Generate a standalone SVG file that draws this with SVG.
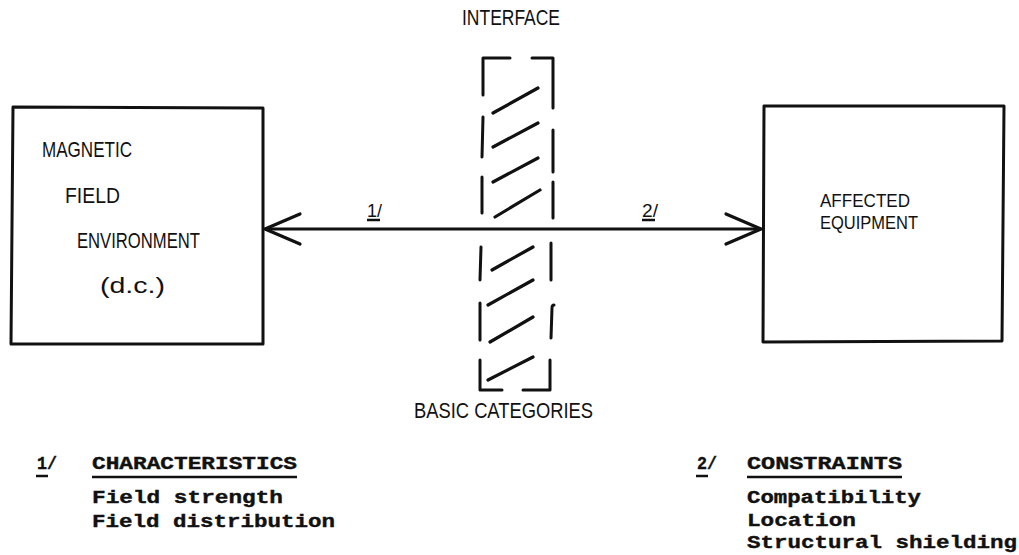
<svg xmlns="http://www.w3.org/2000/svg" width="1019" height="555" viewBox="0 0 1019 555">
  <defs>
    <style>
      .box { fill: none; stroke: #111; stroke-width: 3; stroke-linejoin: round; }
      .dash { fill: none; stroke: #111; stroke-width: 3; stroke-linecap: round; stroke-linejoin: round; }
      .hatch { fill: none; stroke: #111; stroke-width: 3.2; stroke-linecap: round; }
      .conn { fill: none; stroke: #111; stroke-width: 3; }
      .ul { stroke: #111; stroke-width: 2.5; }
      .lbl { font-family: "Liberation Sans", Arial, sans-serif; font-size: 22px; fill: #111; }
      .lbl2 { font-family: "Liberation Sans", Arial, sans-serif; font-size: 19px; fill: #111; }
      .small { font-family: "Liberation Sans", Arial, sans-serif; font-size: 18px; fill: #111; }
      .mono { font-family: "Liberation Mono", "Courier New", monospace; font-weight: bold; font-size: 18.5px; fill: #111; stroke: #111; stroke-width: 0.4; }
    </style>
    <marker id="vhead" markerUnits="userSpaceOnUse" markerWidth="40" markerHeight="40" refX="0" refY="0" orient="auto-start-reverse" overflow="visible">
      <path d="M-35,-15 L0,0 L-35,15" fill="none" stroke="#111" stroke-width="3.2" stroke-linecap="round" stroke-linejoin="round"/>
    </marker>
  </defs>
  <rect width="1019" height="555" fill="#fff"/>

  <g id="node-magnetic-field">
    <path class="box" d="M13,107 L263,108 L263,344 L11,344 Z"/>
    <text class="lbl" x="42" y="157" textLength="90" lengthAdjust="spacingAndGlyphs">MAGNETIC</text>
    <text class="lbl" x="65" y="203" textLength="55" lengthAdjust="spacingAndGlyphs">FIELD</text>
    <text class="lbl" x="77" y="248" textLength="123" lengthAdjust="spacingAndGlyphs">ENVIRONMENT</text>
    <text class="lbl" x="100" y="293" textLength="65" lengthAdjust="spacingAndGlyphs">(d.c.)</text>
  </g>

  <g id="node-affected-equipment">
    <path class="box" d="M764,106 L1004,106 L1002,341 L763,342 Z"/>
    <text class="lbl2" x="820" y="207" textLength="90" lengthAdjust="spacingAndGlyphs">AFFECTED</text>
    <text class="lbl2" x="820" y="229" textLength="98" lengthAdjust="spacingAndGlyphs">EQUIPMENT</text>
  </g>

  <g id="node-interface">
    <text class="lbl" x="462" y="25" textLength="98" lengthAdjust="spacingAndGlyphs">INTERFACE</text>
    <path class="dash" d="M510,58 L483,58 L483,95"/>
    <path class="dash" d="M483,117 L482,157"/>
    <path class="dash" d="M482,177 L482,213"/>
    <path class="dash" d="M481,247 L480,280"/>
    <path class="dash" d="M480,303 L480,340"/>
    <path class="dash" d="M480,360 L480,390 L502,390"/>
    <path class="dash" d="M532,58 L553,58 L553,108"/>
    <path class="dash" d="M553,130 L553,172"/>
    <path class="dash" d="M553,182 L553,218"/>
    <path class="dash" d="M551,243 L551,280"/>
    <path class="dash" d="M554,305 Q552,305 552,308 L551,338"/>
    <path class="dash" d="M550,360 L550,390 L523,390"/>
    <path class="hatch" d="M493,113 L538,88"/>
    <path class="hatch" d="M493,147 L538,123"/>
    <path class="hatch" d="M493,182 L538,158"/>
    <path class="hatch" d="M495,217 L540,190"/>
    <path class="hatch" d="M492,270 L533,247"/>
    <path class="hatch" d="M488,305 L533,280"/>
    <path class="hatch" d="M490,342 L533,317"/>
    <path class="hatch" d="M488,380 L533,357"/>
    <text class="lbl" x="414" y="418" textLength="179" lengthAdjust="spacingAndGlyphs">BASIC CATEGORIES</text>
  </g>

  <g id="connectors">
    <line class="conn" x1="265" y1="229" x2="761" y2="229" marker-start="url(#vhead)" marker-end="url(#vhead)"/>
    <text class="small" x="367" y="217" textLength="15" lengthAdjust="spacingAndGlyphs">1/</text>
    <line class="ul" x1="367" y1="220" x2="380" y2="220"/>
    <text class="small" x="642" y="217" textLength="16" lengthAdjust="spacingAndGlyphs">2/</text>
    <line class="ul" x1="642" y1="220" x2="655" y2="220"/>
  </g>

  <g id="legend-characteristics">
    <text class="mono" x="37" y="469" textLength="20" lengthAdjust="spacingAndGlyphs">1/</text>
    <line class="ul" x1="36" y1="476" x2="48" y2="476"/>
    <text class="mono" x="92" y="469" textLength="205" lengthAdjust="spacingAndGlyphs">CHARACTERISTICS</text>
    <line class="ul" x1="92" y1="477" x2="297" y2="477"/>
    <text class="mono" x="92" y="503" textLength="191" lengthAdjust="spacingAndGlyphs">Field strength</text>
    <text class="mono" x="92" y="527" textLength="243" lengthAdjust="spacingAndGlyphs">Field distribution</text>
  </g>

  <g id="legend-constraints">
    <text class="mono" x="697" y="469" textLength="20" lengthAdjust="spacingAndGlyphs">2/</text>
    <line class="ul" x1="696" y1="476" x2="708" y2="476"/>
    <text class="mono" x="747" y="469" textLength="155" lengthAdjust="spacingAndGlyphs">CONSTRAINTS</text>
    <line class="ul" x1="747" y1="477" x2="902" y2="477"/>
    <text class="mono" x="747" y="503" textLength="174" lengthAdjust="spacingAndGlyphs">Compatibility</text>
    <text class="mono" x="747" y="526" textLength="109" lengthAdjust="spacingAndGlyphs">Location</text>
    <text class="mono" x="747" y="548" textLength="270" lengthAdjust="spacingAndGlyphs">Structural shielding</text>
  </g>
</svg>
